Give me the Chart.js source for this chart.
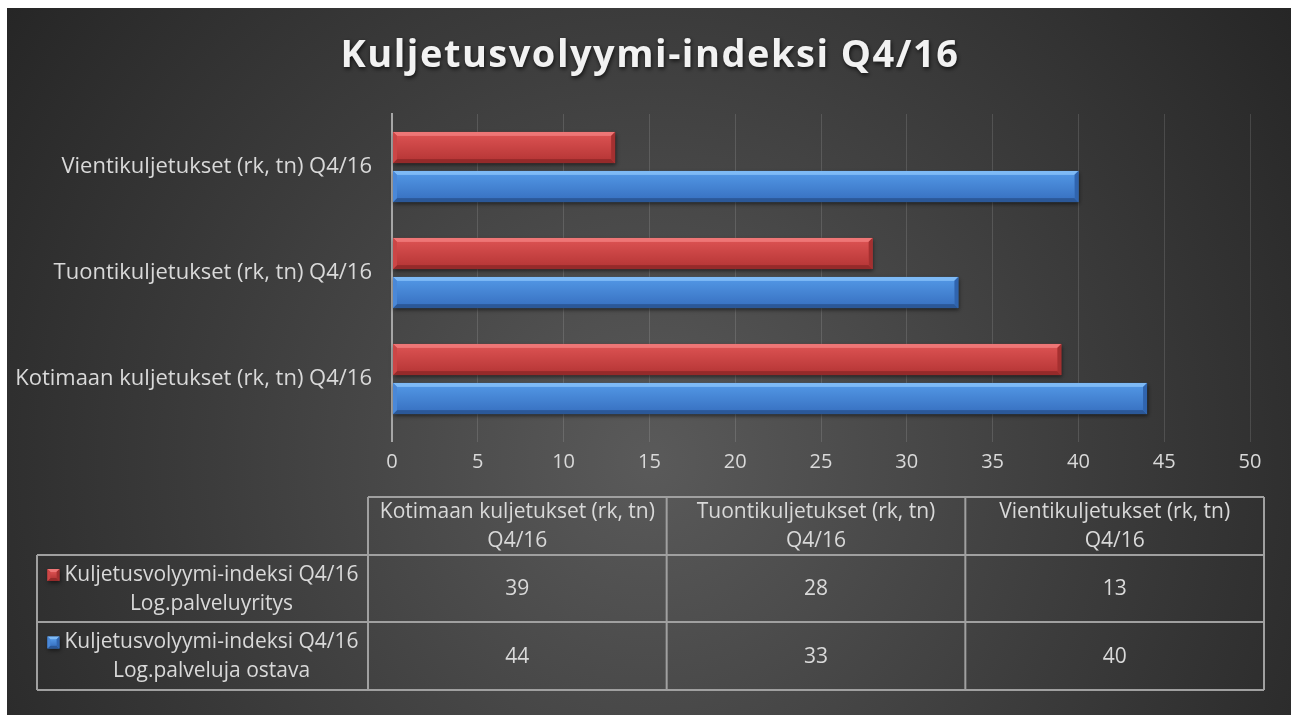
<!DOCTYPE html>
<html>
<head>
<meta charset="utf-8">
<script src="https://cdn.jsdelivr.net/npm/chart.js@4/dist/chart.umd.min.js"></script>
<style>
    html, body { margin: 0; padding: 0; background: #fff; }
    canvas { display: block; }
</style>
</head>
<body>
<canvas id="chart" width="1291" height="715"></canvas>
<script>
// Chart data
const chartTitle = 'Kuljetusvolyymi-indeksi Q4/16';
const categories = ['Kotimaan kuljetukset (rk, tn) Q4/16', 'Tuontikuljetukset (rk, tn) Q4/16', 'Vientikuljetukset (rk, tn) Q4/16'];
const tableHeaders = [['Kotimaan kuljetukset (rk, tn)', 'Q4/16'], ['Tuontikuljetukset (rk, tn)', 'Q4/16'], ['Vientikuljetukset (rk, tn)', 'Q4/16']];
const seriesNames = [['Kuljetusvolyymi-indeksi Q4/16', 'Log.palveluyritys'], ['Kuljetusvolyymi-indeksi Q4/16', 'Log.palveluja ostava']];
const palveluyritys = [39, 28, 13];
const palvelujaOstava = [44, 33, 40];
const xMin = 0, xMax = 50, xStep = 5;

const FONT = '"Open Sans", "DejaVu Sans", sans-serif';
const TEXT = '#d9d9d9';

// bevel palettes
const red = { top: '#ee7676', faceA: '#d95050', faceB: '#b93838', bottom: '#952a2a', left: '#cc4646', right: '#a43030', base: '#c84040' };
const blue = { top: '#7ebaf6', faceA: '#5094e2', faceB: '#3a74c4', bottom: '#2b5898', left: '#4a88d8', right: '#3064ae', base: '#4080d0' };
const palettes = [red, blue];

function poly(ctx, pts, color) {
    ctx.beginPath();
    ctx.moveTo(pts[0][0], pts[0][1]);
    for (let i = 1; i < pts.length; i++) ctx.lineTo(pts[i][0], pts[i][1]);
    ctx.closePath();
    ctx.fillStyle = color;
    ctx.fill();
}

function bevelRect(ctx, l, t, r, b, p, bev) {
    // drop shadow
    ctx.save();
    ctx.shadowColor = 'rgba(0,0,0,0.55)';
    ctx.shadowBlur = 4;
    ctx.shadowOffsetX = 1;
    ctx.shadowOffsetY = 2;
    ctx.fillStyle = p.base;
    ctx.fillRect(l, t, r - l, b - t);
    ctx.restore();

    poly(ctx, [[l, t], [r, t], [r - bev, t + bev], [l + bev, t + bev]], p.top);
    poly(ctx, [[l, b], [r, b], [r - bev, b - bev], [l + bev, b - bev]], p.bottom);
    poly(ctx, [[l, t], [l + bev, t + bev], [l + bev, b - bev], [l, b]], p.left);
    poly(ctx, [[r, t], [r - bev, t + bev], [r - bev, b - bev], [r, b]], p.right);
    const g = ctx.createLinearGradient(0, t + bev, 0, b - bev);
    g.addColorStop(0, p.faceA);
    g.addColorStop(1, p.faceB);
    ctx.fillStyle = g;
    ctx.fillRect(l + bev, t + bev, r - l - 2 * bev, b - t - 2 * bev);
}

// Background: white margin and dark radial gradient, plus title
const backgroundPlugin = {
    id: 'bg',
    beforeDraw(chart) {
        const ctx = chart.ctx;
        ctx.save();
        ctx.fillStyle = '#ffffff';
        ctx.fillRect(0, 0, chart.width, chart.height);
        const g = ctx.createRadialGradient(650, 460, 0, 650, 460, 800);
        g.addColorStop(0, '#5a5a5a');
        g.addColorStop(0.55, '#3c3c3c');
        g.addColorStop(1, '#252525');
        ctx.fillStyle = g;
        ctx.fillRect(7, 8, chart.width - 7, chart.height - 8);

        ctx.font = 'bold 38px ' + FONT;
        ctx.letterSpacing = '1.5px';
        ctx.textAlign = 'center';
        ctx.textBaseline = 'middle';
        ctx.shadowColor = 'rgba(0,0,0,0.7)';
        ctx.shadowBlur = 4;
        ctx.shadowOffsetX = 1;
        ctx.shadowOffsetY = 2;
        ctx.fillStyle = '#f2f2f2';
        ctx.fillText(chartTitle, 650, 56);
        ctx.restore();
    }
};

// Beveled bars drawn over the library's bar elements
const bevelPlugin = {
    id: 'bevel',
    afterDatasetsDraw(chart) {
        const ctx = chart.ctx;
        ctx.save();
        chart.data.datasets.forEach((ds, i) => {
            const meta = chart.getDatasetMeta(i);
            meta.data.forEach(el => {
                const t = el.y - el.height / 2, b = el.y + el.height / 2;
                const l = Math.min(el.base, el.x), r = Math.max(el.base, el.x);
                bevelRect(ctx, l, t, r, b, palettes[i], 4);
            });
        });
        ctx.restore();
    }
};

// Data table below the chart
const tablePlugin = {
    id: 'dataTable',
    afterDraw(chart) {
        const ctx = chart.ctx;
        const area = chart.chartArea;
        const colL = 37, dataL = area.left - 24, right = area.right + 14;
        const colW = (right - dataL) / categories.length;
        const rows = [497, 555, 622, 690];
        ctx.save();
        ctx.strokeStyle = '#a0a0a0';
        ctx.lineWidth = 2;
        ctx.beginPath();
        ctx.moveTo(dataL, rows[0]); ctx.lineTo(right, rows[0]);
        for (let r = 1; r < rows.length; r++) {
            ctx.moveTo(colL, rows[r]); ctx.lineTo(right, rows[r]);
        }
        ctx.moveTo(colL, rows[1]); ctx.lineTo(colL, rows[3]);
        for (let c = 0; c <= categories.length; c++) {
            const x = dataL + c * colW;
            ctx.moveTo(x, rows[0]); ctx.lineTo(x, rows[3]);
        }
        ctx.stroke();

        ctx.font = '21px ' + FONT;
        ctx.fillStyle = TEXT;
        ctx.textAlign = 'center';
        ctx.textBaseline = 'middle';
        const lh = 29;
        tableHeaders.forEach((lines, c) => {
            const cx = dataL + (c + 0.5) * colW;
            const cy = (rows[0] + rows[1]) / 2 + 1;
            lines.forEach((s, k) => ctx.fillText(s, cx, cy + (k - 0.5) * lh));
        });
        const series = [palveluyritys, palvelujaOstava];
        series.forEach((vals, s) => {
            const cy = (rows[s + 1] + rows[s + 2]) / 2 + 1;
            const cx = (colL + dataL) / 2 + 9;
            seriesNames[s].forEach((txt, k) => {
                ctx.fillStyle = TEXT;
                ctx.fillText(txt, cx, cy + (k - 0.5) * lh);
            });
            const w = ctx.measureText(seriesNames[s][0]).width;
            const sx = cx - w / 2 - 17, sy = cy - 0.5 * lh - 6;
            bevelRect(ctx, sx, sy, sx + 12, sy + 12, palettes[s], 3);
            ctx.fillStyle = TEXT;
            vals.forEach((v, c) => {
                ctx.fillText(String(v), dataL + (c + 0.5) * colW, cy);
            });
        });
        ctx.restore();
    }
};

new Chart(document.getElementById('chart'), {
    type: 'bar',
    data: {
        labels: categories,
        datasets: [
            { label: seriesNames[0].join(' '), data: palveluyritys, backgroundColor: red.base, borderWidth: 0 },
            { label: seriesNames[1].join(' '), data: palvelujaOstava, backgroundColor: blue.base, borderWidth: 0 }
        ]
    },
    options: {
        indexAxis: 'y',
        responsive: false,
        animation: false,
        devicePixelRatio: 1,
        categoryPercentage: 0.736,
        barPercentage: 0.8,
        layout: { padding: { left: 0, top: 114, right: 41, bottom: 223 } },
        plugins: {
            legend: { display: false },
            title: { display: false },
            tooltip: { enabled: false }
        },
        scales: {
            x: {
                min: xMin,
                max: xMax,
                ticks: { stepSize: xStep, color: TEXT, font: { family: FONT, size: 20 }, padding: 8 },
                grid: {
                    color: c => c.tick && c.tick.value === 0 ? '#a6a6a6' : 'rgba(255,255,255,0.13)',
                    lineWidth: c => c.tick && c.tick.value === 0 ? 2 : 1,
                    tickLength: 10
                },
                border: { display: false },
                afterFit: s => { s.height = 60; }
            },
            y: {
                reverse: true,
                ticks: { color: TEXT, font: { family: FONT, size: 22 }, padding: 12 },
                grid: { display: false },
                border: { display: true, color: '#a6a6a6', width: 2 },
                afterFit: s => { s.width = 392; }
            }
        }
    },
    plugins: [backgroundPlugin, bevelPlugin, tablePlugin]
});
</script>
</body>
</html>
